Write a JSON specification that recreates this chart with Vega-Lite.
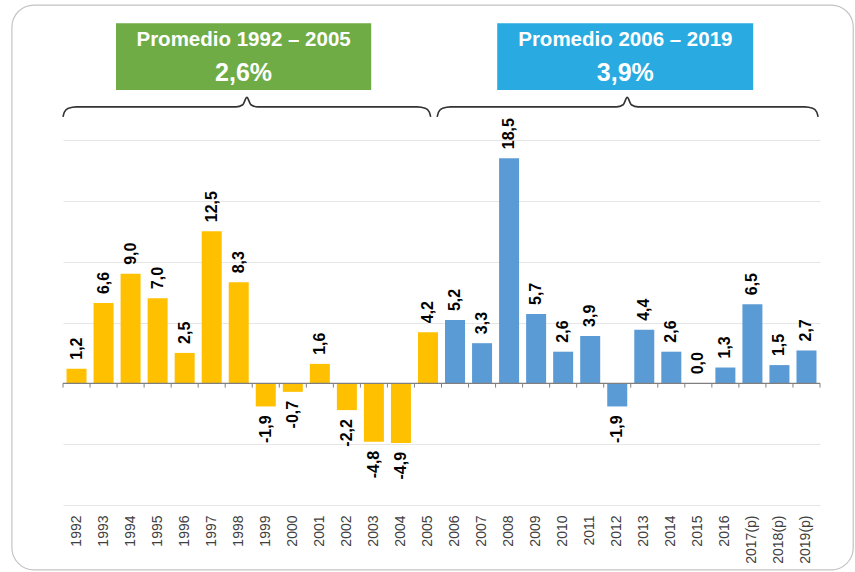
{
  "$schema": "https://vega.github.io/schema/vega-lite/v6.json",
  "width": 757,
  "height": 365,
  "autosize": {"type": "none"},
  "padding": {"left": 63, "top": 140, "right": 35, "bottom": 67},
  "background": "white",
  "config": {"view": {"stroke": null}, "font": "Liberation Sans"},
  "datasets": {
    "growth": [
      {"year": "1992", "value": 1.2, "label": "1,2", "period": "1992–2005"},
      {"year": "1993", "value": 6.6, "label": "6,6", "period": "1992–2005"},
      {"year": "1994", "value": 9.0, "label": "9,0", "period": "1992–2005"},
      {"year": "1995", "value": 7.0, "label": "7,0", "period": "1992–2005"},
      {"year": "1996", "value": 2.5, "label": "2,5", "period": "1992–2005"},
      {"year": "1997", "value": 12.5, "label": "12,5", "period": "1992–2005"},
      {"year": "1998", "value": 8.3, "label": "8,3", "period": "1992–2005"},
      {"year": "1999", "value": -1.9, "label": "-1,9", "period": "1992–2005"},
      {"year": "2000", "value": -0.7, "label": "-0,7", "period": "1992–2005"},
      {"year": "2001", "value": 1.6, "label": "1,6", "period": "1992–2005"},
      {"year": "2002", "value": -2.2, "label": "-2,2", "period": "1992–2005"},
      {"year": "2003", "value": -4.8, "label": "-4,8", "period": "1992–2005"},
      {"year": "2004", "value": -4.9, "label": "-4,9", "period": "1992–2005"},
      {"year": "2005", "value": 4.2, "label": "4,2", "period": "1992–2005"},
      {"year": "2006", "value": 5.2, "label": "5,2", "period": "2006–2019"},
      {"year": "2007", "value": 3.3, "label": "3,3", "period": "2006–2019"},
      {"year": "2008", "value": 18.5, "label": "18,5", "period": "2006–2019"},
      {"year": "2009", "value": 5.7, "label": "5,7", "period": "2006–2019"},
      {"year": "2010", "value": 2.6, "label": "2,6", "period": "2006–2019"},
      {"year": "2011", "value": 3.9, "label": "3,9", "period": "2006–2019"},
      {"year": "2012", "value": -1.9, "label": "-1,9", "period": "2006–2019"},
      {"year": "2013", "value": 4.4, "label": "4,4", "period": "2006–2019"},
      {"year": "2014", "value": 2.6, "label": "2,6", "period": "2006–2019"},
      {"year": "2015", "value": 0.0, "label": "0,0", "period": "2006–2019"},
      {"year": "2016", "value": 1.3, "label": "1,3", "period": "2006–2019"},
      {"year": "2017(p)", "value": 6.5, "label": "6,5", "period": "2006–2019"},
      {"year": "2018(p)", "value": 1.5, "label": "1,5", "period": "2006–2019"},
      {"year": "2019(p)", "value": 2.7, "label": "2,7", "period": "2006–2019"}
    ],
    "boxes": [
      {"x0": 1.96, "x1": 11.4, "y0": 24.1, "y1": 29.6, "box": "Promedio 1992 – 2005", "cx": 6.68, "title": "Promedio 1992 – 2005", "avg": "2,6%"},
      {"x0": 16.06, "x1": 25.53, "y0": 24.1, "y1": 29.6, "box": "Promedio 2006 – 2019", "cx": 20.8, "title": "Promedio 2006 – 2019", "avg": "3,9%"}
    ],
    "braces": [
      {"b": "A", "xq": 0.0, "y": 21.9},
      {"b": "A", "xq": 0.05, "y": 22.3},
      {"b": "A", "xq": 0.2, "y": 22.6},
      {"b": "A", "xq": 0.5, "y": 22.72},
      {"b": "A", "xq": 6.4, "y": 22.72},
      {"b": "A", "xq": 6.65, "y": 22.9},
      {"b": "A", "xq": 6.8, "y": 23.5},
      {"b": "A", "xq": 6.95, "y": 22.9},
      {"b": "A", "xq": 7.2, "y": 22.72},
      {"b": "A", "xq": 13.1, "y": 22.72},
      {"b": "A", "xq": 13.4, "y": 22.6},
      {"b": "A", "xq": 13.55, "y": 22.3},
      {"b": "A", "xq": 13.6, "y": 21.9},
      {"b": "B", "xq": 13.84, "y": 21.9},
      {"b": "B", "xq": 13.89, "y": 22.3},
      {"b": "B", "xq": 14.04, "y": 22.6},
      {"b": "B", "xq": 14.34, "y": 22.72},
      {"b": "B", "xq": 20.47, "y": 22.72},
      {"b": "B", "xq": 20.72, "y": 22.9},
      {"b": "B", "xq": 20.87, "y": 23.5},
      {"b": "B", "xq": 21.02, "y": 22.9},
      {"b": "B", "xq": 21.27, "y": 22.72},
      {"b": "B", "xq": 27.43, "y": 22.72},
      {"b": "B", "xq": 27.73, "y": 22.6},
      {"b": "B", "xq": 27.88, "y": 22.3},
      {"b": "B", "xq": 27.93, "y": 21.9}
    ],
    "ticks": [
      {"xq": 0}, {"xq": 1}, {"xq": 2}, {"xq": 3}, {"xq": 4}, {"xq": 5}, {"xq": 6}, {"xq": 7}, {"xq": 8}, {"xq": 9},
      {"xq": 10}, {"xq": 11}, {"xq": 12}, {"xq": 13}, {"xq": 14}, {"xq": 15}, {"xq": 16}, {"xq": 17}, {"xq": 18}, {"xq": 19},
      {"xq": 20}, {"xq": 21}, {"xq": 22}, {"xq": 23}, {"xq": 24}, {"xq": 25}, {"xq": 26}, {"xq": 27}, {"xq": 28}
    ],
    "frame": [
      {"x0": -1.89, "x1": 29.23, "y0": -15.33, "y1": 31.09}
    ]
  },
  "resolve": {"scale": {"x": "independent", "y": "independent", "color": "independent"}},
  "layer": [
    {
      "data": {"name": "growth"},
      "encoding": {
        "x": {
          "field": "year", "type": "nominal", "sort": null,
          "scale": {"paddingInner": 0.26, "paddingOuter": 0.13},
          "axis": {"title": null, "domain": false, "ticks": false, "labelAngle": 270, "labelAlign": "right", "labelBaseline": "middle", "labelPadding": 10, "labelFontSize": 14, "labelColor": "#404040", "labelFont": "Liberation Sans"}
        },
        "y": {
          "field": "value", "type": "quantitative",
          "scale": {"domain": [-10, 20], "nice": false, "zero": false},
          "axis": {"title": null, "labels": false, "ticks": false, "domain": false, "grid": true, "values": [-10, -5, 0, 5, 10, 15, 20], "gridColor": "#e6e6e6", "gridWidth": 1}
        }
      },
      "layer": [
        {
          "mark": {"type": "bar"},
          "encoding": {
            "y2": {"datum": 0},
            "color": {"field": "period", "type": "nominal", "scale": {"domain": ["1992–2005", "2006–2019"], "range": ["#FFC000", "#5B9BD5"]}, "legend": null}
          }
        },
        {
          "transform": [{"filter": "datum.value >= 0"}],
          "mark": {"type": "text", "angle": 270, "align": "left", "baseline": "middle", "dx": 9, "fontSize": 16, "fontWeight": "bold", "font": "Liberation Sans", "color": "#000000"},
          "encoding": {"text": {"field": "label"}}
        },
        {
          "transform": [{"filter": "datum.value < 0"}],
          "mark": {"type": "text", "angle": 270, "align": "right", "baseline": "middle", "dx": -9, "fontSize": 16, "fontWeight": "bold", "font": "Liberation Sans", "color": "#000000"},
          "encoding": {"text": {"field": "label"}}
        }
      ]
    },
    {
      "layer": [
        {
          "data": {"name": "ticks"},
          "mark": {"type": "rule", "color": "#7f7f7f", "strokeWidth": 1},
          "encoding": {
            "x": {"field": "xq", "type": "quantitative", "scale": {"domain": [0, 28], "nice": false, "zero": false}, "axis": null},
            "y": {"datum": 0, "type": "quantitative", "scale": {"domain": [-10, 20], "nice": false, "zero": false}, "axis": null},
            "y2": {"datum": -0.35}
          }
        },
        {
          "data": {"name": "frame"},
          "mark": {"type": "rule", "color": "#7f7f7f", "strokeWidth": 1.2},
          "encoding": {
            "x": {"datum": 0, "type": "quantitative", "scale": {"domain": [0, 28], "nice": false, "zero": false}, "axis": null},
            "x2": {"datum": 28},
            "y": {"datum": 0, "type": "quantitative", "scale": {"domain": [-10, 20], "nice": false, "zero": false}, "axis": null}
          }
        },
        {
          "data": {"name": "braces"},
          "mark": {"type": "line", "interpolate": "monotone", "color": "#333333", "strokeWidth": 1.6},
          "encoding": {
            "x": {"field": "xq", "type": "quantitative", "scale": {"domain": [0, 28], "nice": false, "zero": false}, "axis": null},
            "y": {"field": "y", "type": "quantitative", "scale": {"domain": [-10, 20], "nice": false, "zero": false}, "axis": null},
            "detail": {"field": "b"}
          }
        },
        {
          "data": {"name": "boxes"},
          "mark": {"type": "rect"},
          "encoding": {
            "x": {"field": "x0", "type": "quantitative", "scale": {"domain": [0, 28], "nice": false, "zero": false}, "axis": null},
            "x2": {"field": "x1"},
            "y": {"field": "y0", "type": "quantitative", "scale": {"domain": [-10, 20], "nice": false, "zero": false}, "axis": null},
            "y2": {"field": "y1"},
            "color": {"field": "box", "type": "nominal", "scale": {"domain": ["Promedio 1992 – 2005", "Promedio 2006 – 2019"], "range": ["#6FAC46", "#29ABE2"]}, "legend": null}
          }
        },
        {
          "data": {"name": "boxes"},
          "mark": {"type": "text", "align": "center", "baseline": "middle", "fontSize": 20.5, "fontWeight": "bold", "font": "Liberation Sans", "color": "white", "dy": 17},
          "encoding": {
            "x": {"field": "cx", "type": "quantitative", "scale": {"domain": [0, 28], "nice": false, "zero": false}, "axis": null},
            "y": {"field": "y1", "type": "quantitative", "scale": {"domain": [-10, 20], "nice": false, "zero": false}, "axis": null},
            "text": {"field": "title"}
          }
        },
        {
          "data": {"name": "boxes"},
          "mark": {"type": "text", "align": "center", "baseline": "middle", "fontSize": 25, "fontWeight": "bold", "font": "Liberation Sans", "color": "white", "dy": -17},
          "encoding": {
            "x": {"field": "cx", "type": "quantitative", "scale": {"domain": [0, 28], "nice": false, "zero": false}, "axis": null},
            "y": {"field": "y0", "type": "quantitative", "scale": {"domain": [-10, 20], "nice": false, "zero": false}, "axis": null},
            "text": {"field": "avg"}
          }
        },
        {
          "data": {"name": "frame"},
          "mark": {"type": "rect", "cornerRadius": 22, "fill": null, "fillOpacity": 0, "stroke": "#c4c4c4", "strokeWidth": 1.2},
          "encoding": {
            "x": {"field": "x0", "type": "quantitative", "scale": {"domain": [0, 28], "nice": false, "zero": false}, "axis": null},
            "x2": {"field": "x1"},
            "y": {"field": "y0", "type": "quantitative", "scale": {"domain": [-10, 20], "nice": false, "zero": false}, "axis": null},
            "y2": {"field": "y1"}
          }
        }
      ]
    }
  ]
}
